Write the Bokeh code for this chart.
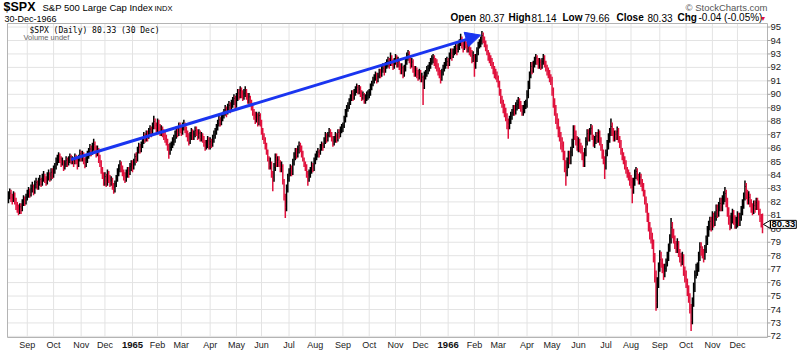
import math
import pandas as pd
from bokeh.plotting import figure
from bokeh.models import ColumnDataSource, Range1d, Label, Arrow, NormalHead
from bokeh.core.properties import value
from bokeh.embed import file_html
from bokeh.resources import INLINE

# ---------------- calendar ----------------
start_date = "1964-08-11"
end_date = "1966-12-30"
holidays = ["1964-09-07", "1964-11-03", "1964-11-26", "1964-12-25",
            "1965-01-01", "1965-02-22", "1965-04-16", "1965-05-31", "1965-07-05",
            "1965-09-06", "1965-11-02", "1965-11-25", "1965-12-24",
            "1966-02-22", "1966-04-08", "1966-05-30", "1966-07-04", "1966-09-05",
            "1966-11-08", "1966-11-24", "1966-12-26"]
month_names = ["Jan", "Feb", "Mar", "Apr", "May", "Jun", "Jul", "Aug", "Sep", "Oct", "Nov", "Dec"]
y_ticks = list(range(72, 96))

# ---------------- daily bars (high / low / close) per month ----------------
hi_6408 = [82.8, 83.0, 82.9, 82.6, 82.8, 82.7, 82.3, 82.0, 81.8, 81.9, 81.9, 82.2, 82.5, 82.4, 82.6]
lo_6408 = [81.9, 82.2, 82.0, 81.8, 82.0, 81.8, 81.4, 81.2, 81.0, 81.1, 81.1, 81.3, 81.7, 81.7, 81.8]
cl_6408 = [82.41, 82.65, 82.35, 82.17, 82.50, 82.08, 81.76, 81.55, 81.32, 81.64, 81.44, 81.91, 82.18, 81.99, 82.35]

hi_6409 = [82.9, 83.1, 83.0, 83.3, 83.5, 83.3, 83.6, 83.8, 83.6, 83.8, 84.0, 83.8, 84.1, 84.3, 84.1, 83.9, 84.2, 84.4, 84.2, 84.5, 84.5]
lo_6409 = [82.1, 82.3, 82.3, 82.4, 82.7, 82.5, 82.6, 83.0, 82.9, 82.9, 83.2, 83.1, 83.2, 83.5, 83.4, 83.2, 83.3, 83.6, 83.5, 83.6, 83.7]
cl_6409 = [82.56, 82.76, 82.61, 82.98, 83.12, 82.87, 83.30, 83.45, 83.21, 83.48, 83.66, 83.41, 83.79, 83.92, 83.70, 83.55, 83.86, 84.05, 83.84, 84.21, 84.08]

hi_6410 = [84.7, 84.9, 85.3, 85.5, 85.7, 85.6, 85.4, 85.3, 85.1, 85.1, 85.4, 85.3, 85.4, 85.6, 85.5, 85.4, 85.3, 85.6, 85.5, 85.2, 85.5, 85.9]
lo_6410 = [83.8, 84.1, 84.4, 84.7, 84.9, 84.9, 84.6, 84.7, 84.3, 84.4, 84.6, 84.6, 84.7, 84.9, 84.8, 84.8, 84.6, 84.8, 84.8, 84.4, 84.6, 85.0]
cl_6410 = [84.36, 84.62, 84.95, 85.18, 85.41, 85.22, 84.96, 85.04, 84.60, 84.82, 85.10, 84.89, 85.13, 85.35, 85.02, 85.14, 84.93, 85.27, 85.08, 84.78, 85.19, 85.58]

hi_6411 = [85.8, 85.8, 85.7, 85.3, 85.5, 85.8, 86.0, 86.3, 86.2, 86.4, 86.7, 86.5, 86.2, 86.2, 86.0, 85.5, 85.1, 84.6, 84.2]
lo_6411 = [85.0, 85.0, 84.8, 84.5, 84.6, 84.9, 85.2, 85.4, 85.4, 85.5, 85.8, 85.7, 85.3, 85.4, 84.9, 84.6, 84.1, 83.7, 83.2]
cl_6411 = [85.31, 85.54, 85.12, 84.83, 85.19, 85.47, 85.72, 85.93, 85.80, 86.12, 86.28, 86.02, 85.68, 85.85, 85.24, 84.97, 84.42, 84.01, 83.55]

hi_6412 = [84.2, 84.1, 84.4, 84.3, 84.0, 83.9, 83.8, 83.4, 83.6, 84.0, 84.5, 84.8, 85.1, 85.0, 84.7, 84.4, 84.2, 84.4, 84.6, 84.6, 84.9, 85.1]
lo_6412 = [83.2, 83.1, 83.2, 83.4, 83.1, 83.2, 82.9, 82.6, 82.7, 83.1, 83.5, 83.9, 84.2, 84.2, 83.9, 83.6, 83.4, 83.5, 83.8, 83.8, 84.0, 84.3]
cl_6412 = [83.88, 83.46, 84.12, 83.79, 83.45, 83.62, 83.22, 82.94, 83.35, 83.70, 84.15, 84.46, 84.82, 84.50, 84.22, 83.96, 83.71, 84.07, 84.33, 84.19, 84.62, 84.75]

hi_6501 = [85.1, 85.2, 85.6, 85.7, 86.1, 86.4, 86.3, 86.5, 86.8, 87.2, 87.1, 87.3, 87.3, 87.5, 87.7, 87.6, 87.9, 88.4, 88.2, 87.9]
lo_6501 = [84.2, 84.4, 84.7, 84.9, 85.0, 85.6, 85.6, 85.7, 86.0, 86.3, 86.4, 86.5, 86.5, 86.7, 87.0, 86.8, 87.0, 87.4, 87.4, 87.2]
cl_6501 = [84.63, 84.89, 85.37, 85.26, 85.84, 86.08, 85.94, 86.21, 86.52, 86.90, 86.74, 87.05, 86.88, 87.23, 87.41, 87.16, 87.63, 87.98, 87.70, 87.56]

hi_6502 = [88.2, 88.1, 87.8, 87.7, 87.6, 87.4, 87.2, 87.0, 86.7, 86.3, 86.4, 86.5, 86.8, 87.0, 87.3, 87.6, 87.6, 87.9, 87.9]
lo_6502 = [87.2, 87.2, 86.9, 86.9, 86.8, 86.6, 86.4, 86.2, 85.8, 85.2, 85.5, 85.8, 86.0, 86.2, 86.4, 86.7, 86.8, 86.9, 87.1]
cl_6502 = [87.85, 87.49, 87.24, 87.36, 87.05, 86.91, 86.73, 86.50, 86.12, 85.78, 86.04, 86.21, 86.46, 86.64, 86.97, 87.26, 87.14, 87.58, 87.43]

hi_6503 = [87.7, 87.9, 88.1, 87.9, 87.6, 87.3, 87.1, 87.2, 87.5, 87.4, 87.3, 87.6, 87.6, 87.4, 87.4, 87.3, 87.2, 87.1, 86.9, 86.6, 86.6, 86.9, 86.8]
lo_6503 = [86.9, 87.0, 87.3, 87.1, 86.8, 86.5, 86.2, 86.3, 86.6, 86.6, 86.6, 86.8, 86.9, 86.6, 86.7, 86.5, 86.5, 86.4, 86.1, 85.8, 85.9, 86.0, 85.9]
cl_6503 = [87.25, 87.60, 87.72, 87.41, 87.08, 86.83, 86.58, 86.92, 87.15, 86.88, 87.04, 87.31, 87.20, 86.95, 87.12, 86.80, 86.97, 86.68, 86.42, 86.10, 86.33, 86.54, 86.20]

hi_6504 = [86.8, 86.7, 87.0, 87.3, 87.5, 87.8, 88.1, 88.4, 88.3, 88.6, 88.7, 88.9, 89.2, 89.1, 89.3, 89.5, 89.4, 89.6, 89.8, 90.0, 89.9]
lo_6504 = [85.9, 86.0, 86.1, 86.4, 86.7, 87.0, 87.3, 87.6, 87.6, 87.7, 88.0, 88.2, 88.4, 88.3, 88.5, 88.7, 88.6, 88.7, 89.0, 89.2, 88.8]
cl_6504 = [86.47, 86.26, 86.70, 86.94, 87.22, 87.55, 87.83, 88.10, 87.94, 88.28, 88.41, 88.62, 88.85, 88.70, 89.03, 89.18, 88.96, 89.26, 89.49, 89.70, 89.11]

hi_6505 = [90.1, 90.4, 90.4, 90.6, 90.5, 90.3, 90.4, 90.6, 90.4, 90.1, 90.1, 89.9, 89.6, 89.3, 88.9, 88.7, 88.7, 88.6, 88.7, 88.6]
lo_6505 = [89.0, 89.5, 89.6, 89.7, 89.7, 89.5, 89.6, 89.8, 89.6, 89.3, 89.3, 89.1, 88.8, 88.4, 88.1, 87.8, 87.9, 87.6, 87.7, 87.6]
cl_6505 = [89.78, 90.10, 89.92, 90.27, 90.03, 89.86, 90.08, 90.27, 89.97, 89.65, 89.81, 89.38, 89.12, 88.75, 88.46, 88.18, 88.39, 87.93, 88.42, 87.97]

hi_6506 = [88.1, 87.5, 87.1, 86.8, 86.4, 85.9, 85.4, 85.3, 85.0, 84.3, 84.9, 85.6, 85.6, 85.4, 85.4, 85.1, 85.0, 84.8, 83.7, 82.6, 83.3, 84.1]
lo_6506 = [87.0, 86.6, 86.3, 85.9, 85.5, 85.0, 84.4, 84.4, 83.8, 82.8, 83.5, 84.3, 84.6, 84.6, 84.6, 84.2, 84.2, 83.3, 82.1, 80.8, 81.3, 82.7]
cl_6506 = [87.25, 86.85, 86.58, 86.21, 85.79, 85.25, 84.73, 84.92, 84.06, 83.70, 84.55, 85.31, 84.87, 85.12, 84.93, 84.58, 84.63, 83.56, 82.41, 81.60, 82.97, 83.72]

hi_6507 = [84.5, 84.8, 84.7, 85.2, 85.7, 86.0, 86.0, 86.2, 86.5, 86.4, 86.2, 85.8, 85.3, 85.0, 84.8, 84.3, 84.4, 84.6, 85.0, 84.9, 85.3]
lo_6507 = [83.5, 83.9, 83.9, 84.0, 84.7, 85.1, 85.2, 85.3, 85.6, 85.7, 85.3, 85.0, 84.6, 84.3, 83.8, 83.2, 83.5, 83.8, 84.1, 84.2, 84.3]
cl_6507 = [84.12, 84.48, 84.21, 84.88, 85.35, 85.71, 85.52, 85.87, 86.20, 85.94, 85.63, 85.18, 84.86, 84.55, 84.12, 83.85, 84.07, 84.26, 84.68, 84.43, 85.02]

hi_6508 = [85.6, 85.8, 86.0, 85.9, 86.3, 86.5, 86.4, 86.8, 87.2, 87.1, 87.2, 87.5, 87.4, 87.2, 86.9, 86.9, 87.2, 87.1, 87.4, 87.4, 87.6, 87.8]
lo_6508 = [84.8, 85.1, 85.3, 85.3, 85.5, 85.8, 85.8, 86.0, 86.3, 86.4, 86.5, 86.8, 86.8, 86.5, 86.1, 86.2, 86.4, 86.4, 86.5, 86.7, 86.8, 87.1]
cl_6508 = [85.33, 85.46, 85.71, 85.58, 86.03, 86.21, 86.07, 86.52, 86.88, 86.69, 86.95, 87.18, 87.04, 86.77, 86.42, 86.63, 86.90, 86.71, 87.17, 86.95, 87.32, 87.48]

hi_6509 = [87.9, 88.4, 88.9, 89.2, 89.4, 89.7, 90.0, 90.3, 90.3, 90.4, 90.6, 90.8, 90.7, 90.7, 90.6, 90.3, 90.2, 90.1, 90.0, 90.2, 90.3]
lo_6509 = [87.2, 87.5, 87.9, 88.3, 88.7, 88.9, 89.2, 89.5, 89.5, 89.6, 89.9, 90.1, 90.0, 90.0, 89.8, 89.5, 89.6, 89.3, 89.3, 89.5, 89.6]
cl_6509 = [87.65, 88.06, 88.57, 88.89, 89.12, 89.38, 89.71, 90.02, 89.87, 90.05, 90.33, 90.52, 90.24, 90.38, 90.08, 89.85, 89.96, 89.61, 89.70, 89.93, 89.96]

hi_6510 = [90.4, 90.8, 91.0, 91.3, 91.5, 91.7, 91.6, 91.6, 91.9, 91.9, 92.1, 92.3, 92.2, 92.4, 92.6, 92.8, 92.7, 93.1, 92.9, 92.6, 92.7]
lo_6510 = [89.7, 89.9, 90.3, 90.6, 90.8, 91.0, 90.8, 90.9, 91.2, 91.2, 91.3, 91.6, 91.4, 91.6, 91.9, 92.0, 91.9, 92.1, 92.1, 91.8, 91.9]
cl_6510 = [90.08, 90.47, 90.72, 90.98, 91.19, 91.37, 91.11, 91.34, 91.62, 91.47, 91.80, 91.94, 91.73, 92.08, 92.27, 92.42, 92.20, 92.63, 92.40, 92.12, 92.42]

hi_6511 = [93.0, 92.9, 92.8, 92.6, 92.3, 92.3, 92.1, 92.2, 92.7, 93.1, 93.3, 93.2, 92.8, 92.7, 92.6, 92.1, 92.1, 92.0, 91.8, 91.9]
lo_6511 = [92.2, 92.0, 92.0, 91.8, 91.5, 91.5, 91.2, 91.3, 91.7, 92.2, 92.5, 92.3, 91.9, 92.0, 91.6, 91.3, 91.3, 91.2, 91.0, 91.1]
cl_6511 = [92.68, 92.31, 92.44, 92.15, 91.86, 91.97, 91.58, 91.93, 92.41, 92.76, 92.97, 92.55, 92.23, 92.40, 91.89, 91.64, 91.78, 91.50, 91.35, 91.61]

hi_6512 = [91.8, 91.6, 91.4, 91.7, 91.8, 92.1, 92.2, 92.4, 92.7, 92.9, 93.0, 92.9, 92.7, 92.6, 92.3, 92.0, 91.8, 91.9, 92.2, 92.4, 92.7, 92.8]
lo_6512 = [90.9, 90.9, 89.2, 90.4, 91.1, 91.3, 91.5, 91.7, 91.9, 92.2, 92.3, 92.1, 91.9, 91.7, 91.4, 91.2, 90.8, 91.0, 91.4, 91.7, 91.9, 92.1]
cl_6512 = [91.21, 91.27, 90.59, 91.39, 91.56, 91.80, 91.92, 92.14, 92.38, 92.62, 92.71, 92.45, 92.29, 92.08, 91.73, 91.52, 91.18, 91.65, 91.88, 92.11, 92.43, 92.43]

hi_6601 = [92.7, 93.1, 93.4, 93.4, 93.4, 93.6, 93.8, 93.7, 93.8, 94.1, 94.5, 94.3, 93.9, 94.1, 94.1, 93.9, 93.9, 93.8, 93.5, 93.3, 93.2]
lo_6601 = [91.9, 92.1, 92.6, 92.5, 92.7, 92.9, 93.0, 92.9, 93.1, 93.3, 93.6, 93.4, 93.1, 93.3, 93.4, 93.1, 93.1, 92.9, 92.8, 92.3, 92.4]
cl_6601 = [92.26, 92.85, 93.06, 92.88, 93.14, 93.33, 93.41, 93.25, 93.52, 93.77, 94.02, 93.69, 93.47, 93.81, 93.72, 93.45, 93.58, 93.16, 93.09, 92.62, 92.88]

hi_6602 = [93.0, 93.0, 93.5, 93.9, 94.1, 94.3, 94.7, 94.6, 94.3, 94.0, 93.7, 93.3, 93.1, 92.9, 92.7, 92.4, 92.1, 91.9, 91.7]
lo_6602 = [91.3, 91.9, 92.4, 92.9, 93.4, 93.5, 93.7, 93.8, 93.5, 93.2, 92.9, 92.5, 92.3, 92.1, 91.9, 91.5, 91.2, 91.1, 90.9]
cl_6602 = [92.16, 92.65, 93.20, 93.59, 93.81, 93.94, 94.36, 94.06, 93.80, 93.55, 93.17, 92.85, 92.66, 92.41, 92.23, 91.87, 91.62, 91.44, 91.22]

hi_6603 = [91.4, 91.0, 90.4, 89.9, 89.6, 89.3, 89.0, 88.6, 88.2, 88.4, 88.7, 88.9, 89.2, 89.2, 89.4, 89.6, 89.8, 89.7, 89.5, 89.2, 89.2, 89.5, 89.6]
lo_6603 = [90.5, 89.9, 89.3, 89.0, 88.6, 88.3, 88.0, 87.4, 86.7, 87.4, 87.8, 88.1, 88.4, 88.4, 88.5, 88.8, 88.9, 88.9, 88.7, 88.4, 88.4, 88.6, 88.9]
cl_6603 = [90.84, 90.26, 89.69, 89.42, 89.03, 88.75, 88.41, 87.86, 87.70, 88.08, 88.35, 88.62, 88.89, 88.76, 89.12, 89.23, 89.41, 89.26, 89.05, 88.78, 88.88, 89.20, 89.23]

hi_6604 = [90.3, 91.0, 91.7, 92.4, 92.4, 92.5, 92.8, 93.0, 92.9, 92.7, 92.7, 92.6, 92.7, 93.0, 92.9, 92.5, 92.2, 92.0, 91.8, 91.5]
lo_6604 = [89.0, 89.7, 90.4, 91.2, 91.5, 91.6, 92.0, 92.2, 92.2, 91.9, 91.9, 91.8, 91.9, 92.2, 92.0, 91.7, 91.4, 91.2, 90.9, 90.7]
cl_6604 = [89.94, 90.64, 91.39, 92.08, 91.86, 92.25, 92.48, 92.71, 92.50, 92.27, 92.38, 92.11, 92.42, 92.65, 92.28, 92.04, 91.76, 91.60, 91.21, 91.06]

hi_6605 = [91.3, 90.5, 89.7, 89.2, 88.6, 88.2, 87.6, 87.2, 86.8, 86.5, 85.8, 85.1, 85.3, 85.8, 85.8, 86.1, 86.7, 87.7, 87.7, 87.3, 86.9]
lo_6605 = [89.9, 89.0, 88.4, 87.8, 87.4, 86.8, 86.5, 85.9, 85.7, 85.1, 84.2, 83.2, 83.9, 84.5, 84.8, 84.8, 85.4, 86.0, 86.6, 86.2, 85.8]
cl_6605 = [90.31, 89.39, 88.86, 88.16, 87.84, 87.23, 86.93, 86.32, 86.18, 85.49, 84.63, 84.41, 84.92, 85.41, 85.18, 85.70, 86.31, 87.33, 86.99, 86.60, 86.13]

hi_6606 = [86.8, 86.7, 86.4, 86.2, 85.7, 86.0, 86.8, 87.4, 87.4, 87.5, 87.8, 87.7, 87.0, 86.9, 87.2, 87.2, 87.4, 87.3, 86.8, 86.3, 85.9, 85.4]
lo_6606 = [85.7, 85.7, 85.6, 85.1, 84.6, 84.6, 85.4, 86.2, 86.5, 86.5, 87.0, 86.6, 86.1, 86.0, 86.3, 86.4, 86.4, 86.2, 85.8, 85.2, 84.8, 83.7]
cl_6606 = [86.44, 86.06, 85.96, 85.42, 84.93, 85.67, 86.50, 87.07, 86.82, 87.21, 87.48, 86.87, 86.35, 86.58, 86.91, 86.70, 87.08, 86.51, 86.08, 85.56, 85.12, 84.74]

hi_6607 = [85.9, 86.6, 87.1, 87.5, 88.2, 87.9, 87.5, 87.3, 87.3, 87.6, 87.5, 86.9, 86.6, 86.0, 85.7, 85.4, 85.1, 84.6, 84.4, 84.2]
lo_6607 = [84.4, 85.4, 85.9, 86.4, 86.9, 86.9, 86.5, 86.5, 86.6, 86.6, 86.4, 86.0, 85.5, 85.1, 84.8, 84.4, 84.1, 83.8, 83.6, 83.2]
cl_6607 = [85.61, 86.27, 86.78, 87.19, 87.61, 87.24, 86.82, 87.04, 86.90, 87.26, 86.69, 86.33, 85.84, 85.45, 85.11, 84.73, 84.46, 84.10, 83.95, 83.60]

hi_6608 = [84.0, 83.8, 83.8, 84.4, 84.6, 84.5, 84.1, 84.2, 84.1, 83.7, 83.4, 82.9, 82.4, 81.9, 81.2, 80.5, 80.1, 79.7, 79.2, 78.2, 76.9, 76.4, 77.5]
lo_6608 = [83.0, 81.9, 82.6, 83.2, 83.7, 83.6, 83.3, 83.3, 83.1, 82.8, 82.4, 81.8, 81.2, 80.5, 79.8, 79.2, 78.9, 78.5, 77.5, 76.0, 73.9, 74.1, 75.6]
cl_6608 = [83.48, 82.96, 83.52, 84.00, 84.27, 83.92, 83.61, 83.85, 83.40, 83.12, 82.71, 82.15, 81.63, 80.88, 80.16, 79.62, 79.38, 78.90, 77.85, 76.41, 74.53, 75.86, 77.10]

hi_6609 = [78.4, 78.3, 77.8, 77.4, 77.4, 77.8, 78.3, 78.9, 79.6, 80.8, 80.5, 80.0, 79.5, 79.1, 79.3, 79.1, 78.5, 78.2, 78.3, 78.1, 77.2]
lo_6609 = [76.8, 77.1, 76.7, 76.2, 76.4, 76.8, 77.2, 77.6, 78.3, 78.9, 79.3, 78.9, 78.5, 78.2, 78.2, 77.9, 77.5, 77.2, 77.3, 76.5, 76.0]
cl_6609 = [77.70, 77.42, 77.11, 76.72, 77.05, 77.48, 77.89, 78.56, 79.23, 80.08, 79.74, 79.31, 78.92, 78.63, 78.85, 78.31, 77.94, 77.67, 77.86, 76.92, 76.56]

hi_6610 = [76.9, 76.3, 75.8, 75.2, 74.4, 74.9, 76.0, 76.9, 77.4, 77.5, 78.3, 79.0, 79.0, 78.7, 78.5, 78.8, 79.5, 80.2, 80.6, 80.9, 80.9]
lo_6610 = [75.6, 75.0, 74.5, 73.7, 72.4, 72.9, 74.2, 75.3, 76.3, 76.5, 76.8, 77.6, 78.0, 77.8, 77.5, 77.7, 78.2, 78.8, 79.4, 79.9, 79.8]
cl_6610 = [76.10, 75.39, 74.90, 74.05, 73.20, 74.47, 75.62, 76.53, 76.89, 77.04, 77.88, 78.64, 78.31, 78.15, 77.87, 78.42, 79.11, 79.78, 80.24, 80.56, 80.20]

hi_6611 = [81.3, 81.2, 81.3, 81.8, 81.8, 82.0, 82.3, 82.3, 82.5, 82.8, 83.1, 82.9, 82.3, 81.6, 81.0, 81.2, 81.5, 81.4, 81.0, 80.9]
lo_6611 = [79.9, 80.1, 80.2, 80.6, 80.8, 80.9, 81.3, 81.3, 81.3, 81.8, 82.0, 81.6, 80.9, 80.3, 79.9, 80.0, 80.4, 80.3, 80.0, 80.0]
cl_6611 = [80.81, 80.56, 80.93, 81.37, 81.20, 81.62, 81.89, 81.71, 82.14, 82.37, 82.62, 81.96, 81.28, 80.65, 80.37, 80.82, 81.09, 80.71, 80.42, 80.45]

hi_6612 = [81.3, 81.2, 81.2, 81.7, 82.2, 82.7, 83.6, 83.4, 82.9, 82.8, 82.6, 82.2, 81.9, 82.1, 82.1, 82.3, 82.3, 82.1, 81.5, 81.1, 81.14]
lo_6612 = [80.1, 80.2, 80.2, 80.6, 81.0, 81.5, 82.1, 82.2, 81.8, 81.8, 81.6, 81.2, 81.0, 81.1, 81.2, 81.4, 81.4, 81.0, 80.5, 80.1, 79.66]
cl_6612 = [80.84, 80.58, 80.85, 81.27, 81.73, 82.25, 83.15, 82.54, 82.21, 82.33, 81.92, 81.58, 81.36, 81.72, 81.60, 81.95, 81.84, 81.27, 80.79, 80.37, 80.33]

# annotation drawn on the chart (trend arrow)
arrow_dates = ["1964-10-21", "1966-02-08"]
arrow_values = [85.15, 94.4]

# header values
last_open, last_high, last_low, last_close = 80.37, 81.14, 79.66, 80.33
last_chg, last_chg_pct = -0.04, -0.05

# ---------------- assemble ----------------
hi_parts = [hi_6408, hi_6409, hi_6410, hi_6411, hi_6412, hi_6501, hi_6502, hi_6503, hi_6504, hi_6505,
            hi_6506, hi_6507, hi_6508, hi_6509, hi_6510, hi_6511, hi_6512, hi_6601, hi_6602, hi_6603,
            hi_6604, hi_6605, hi_6606, hi_6607, hi_6608, hi_6609, hi_6610, hi_6611, hi_6612]
lo_parts = [lo_6408, lo_6409, lo_6410, lo_6411, lo_6412, lo_6501, lo_6502, lo_6503, lo_6504, lo_6505,
            lo_6506, lo_6507, lo_6508, lo_6509, lo_6510, lo_6511, lo_6512, lo_6601, lo_6602, lo_6603,
            lo_6604, lo_6605, lo_6606, lo_6607, lo_6608, lo_6609, lo_6610, lo_6611, lo_6612]
cl_parts = [cl_6408, cl_6409, cl_6410, cl_6411, cl_6412, cl_6501, cl_6502, cl_6503, cl_6504, cl_6505,
            cl_6506, cl_6507, cl_6508, cl_6509, cl_6510, cl_6511, cl_6512, cl_6601, cl_6602, cl_6603,
            cl_6604, cl_6605, cl_6606, cl_6607, cl_6608, cl_6609, cl_6610, cl_6611, cl_6612]
high = [v for part in hi_parts for v in part]
low = [v for part in lo_parts for v in part]
close = [v for part in cl_parts for v in part]

dates = pd.bdate_range(start_date, end_date)
dates = dates[~dates.isin(pd.to_datetime(holidays))]
n = min(len(dates), len(close))
dates = dates[:n]
high, low, close = high[:n], low[:n], close[:n]
xs = list(range(n))

RED = "#e0103c"
colors = ["#000000"] + [("#000000" if close[i] >= close[i - 1] else RED) for i in range(1, n)]
src = ColumnDataSource(dict(x=xs, xr=[x + 0.45 for x in xs], high=high, low=low,
                            close=close, color=colors))

# ---------------- figure: frame covers the whole canvas ----------------
W, H = 800, 353
PX_PER_BAR = 1.2525      # horizontal scale (px per trading day)
PX_PER_PT = 13.45        # vertical scale (px per index point)
XA = -8 / PX_PER_BAR
XB = XA + W / PX_PER_BAR
YB = 94 + 40 / PX_PER_PT
YA = YB - H / PX_PER_PT

p = figure(width=W, height=H, output_backend="svg", toolbar_location=None,
           x_range=Range1d(XA, XB), y_range=Range1d(YA, YB),
           x_axis_location=None, y_axis_location=None, min_border=0)
p.grid.visible = False
p.outline_line_color = None
p.background_fill_color = "white"
p.border_fill_color = "white"


def xd(px):
    return XA + px / PX_PER_BAR


def yd(py):
    return YB - py / PX_PER_PT


# plot-area box (pixels)
PL, PR, PT, PB = 7, 767, 23, 337
L, R, T, B = xd(PL), xd(PR), yd(PT), yd(PB)

# month ticks
month_ticks, month_text, year_ticks, year_text = [], [], [], []
for i in range(1, n):
    if dates[i].month != dates[i - 1].month:
        if dates[i].month == 1:
            year_ticks.append(i)
            year_text.append(str(dates[i].year))
        else:
            month_ticks.append(i)
            month_text.append(month_names[dates[i].month - 1])
all_ticks = sorted(month_ticks + year_ticks)

GRID = "#e3e3e3"
# grid
p.segment(x0=[L] * len(y_ticks), x1=[R] * len(y_ticks), y0=y_ticks, y1=y_ticks,
          line_color=GRID, line_width=1)
p.segment(x0=all_ticks, x1=all_ticks, y0=[B] * len(all_ticks), y1=[T] * len(all_ticks),
          line_color=GRID, line_width=1)
# frame
p.quad(left=[L], right=[R], bottom=[B], top=[T], fill_color=None, line_color="#b4b4b4", line_width=1)

# right price axis: ticks and labels
p.segment(x0=[R] * len(y_ticks), x1=[xd(PR + 3)] * len(y_ticks), y0=y_ticks, y1=y_ticks,
          line_color="#a0a0a0", line_width=1)
p.text(x=[xd(PR + 3)] * len(y_ticks), y=y_ticks, text=[str(t) for t in y_ticks],
       text_align="left", text_baseline="middle", text_font=value("Liberation Sans"),
       text_font_size="9.5px", text_color="#222222")

# bottom date axis labels
p.text(x=month_ticks, y=[yd(344.5)] * len(month_ticks), text=month_text,
       text_align="center", text_baseline="middle", text_font=value("Liberation Sans"),
       text_font_size="9px", text_color="#222222")
p.text(x=year_ticks, y=[yd(344.5)] * len(year_ticks), text=year_text,
       text_align="center", text_baseline="middle", text_font=value("Liberation Sans"),
       text_font_size="9.5px", text_font_style="bold", text_color="#111111")

# OHLC bars
p.segment(x0="x", y0="low", x1="x", y1="high", line_color="color", line_width=1.5, source=src)
p.segment(x0="x", y0="close", x1="xr", y1="close", line_color="color", line_width=1, source=src)

# trend arrow
ai = [int(dates.get_loc(pd.Timestamp(d))) for d in arrow_dates]
BLUE = "#1a35f0"
p.add_layout(Arrow(x_start=ai[0], y_start=arrow_values[0], x_end=ai[1], y_end=arrow_values[1],
                   line_color=BLUE, line_width=3,
                   end=NormalHead(size=15, fill_color=BLUE, line_color=BLUE, line_width=1)))


def lab(text, px, py, size, style="normal", color="#000000", align="left",
        font="Liberation Sans", **kw):
    lbl = Label(x=xd(px), y=yd(py), text=text, text_font=font, text_font_size=size,
                text_font_style=style, text_color=color, text_align=align,
                text_baseline="middle", **kw)
    p.add_layout(lbl)
    return lbl


# header
lab("$SPX", 3, 6.5, "12.5px", style="bold")
lab("S&P 500 Large Cap Index", 42, 7, "9.5px")
lab("INDX", 154, 7.5, "7.5px")
lab("30-Dec-1966", 4, 18, "9px")
lab("\u00a9 StockCharts.com", 767, 6.5, "9.5px", color="#555555", align="right")

hdr = [("Open", 450, "bold"), (f"{last_open:.2f}", 479, "normal"),
       ("High", 508, "bold"), (f"{last_high:.2f}", 531, "normal"),
       ("Low", 562, "bold"), (f"{last_low:.2f}", 584, "normal"),
       ("Close", 616, "bold"), (f"{last_close:.2f}", 647, "normal"),
       ("Chg", 677, "bold"), (f"{last_chg:.2f} ({last_chg_pct:.2f}%)", 698, "normal")]
for t, px, st in hdr:
    lab(t, px, 17, "10px", style=st)
lab("\u25bc", 759, 17.5, "7px", color=RED)

# in-chart legend
lab(f"$SPX (Daily) {last_close:.2f} (30 Dec)", 29, 30, "8px", font="DejaVu Sans Mono")
lab("Volume undef", 23, 36.5, "7.5px", color="#666666")

# last price marker on the right axis
p.scatter(x=[xd(767.5)], y=[last_close], marker="triangle", angle=math.pi / 2, size=8,
          fill_color="white", line_color="#000000", line_width=1)
p.add_layout(Label(x=xd(770), y=last_close, text=f"{last_close:.2f}", text_font="Liberation Sans",
                   text_font_size="9.5px", text_font_style="bold", text_color="#000000",
                   text_baseline="middle", text_align="left",
                   background_fill_color="white", border_line_color="#000000",
                   border_line_width=1, padding=1))

open("out.html", "w").write(file_html(p, INLINE))
